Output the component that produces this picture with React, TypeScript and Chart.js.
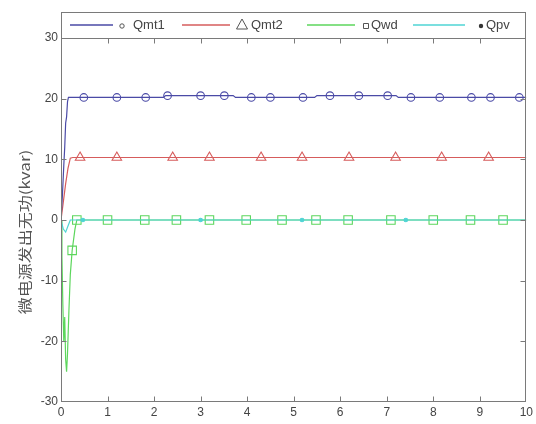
import React, { useEffect, useRef } from "react";
import { Chart, registerables } from "chart.js";

Chart.register(...registerables);

// time (s) and reactive power (kvar) for each source
const qmt1T = [0, 0.03, 0.06, 0.08, 0.1, 0.12, 0.14, 0.16, 0.2, 2.2, 2.25, 3.7, 3.75, 5.45, 5.5, 7.2, 7.25, 10];
const qmt1V = [0, 4, 9, 12, 16, 17, 19.5, 20.2, 20.2, 20.2, 20.5, 20.5, 20.2, 20.2, 20.5, 20.5, 20.2, 20.2];
const qmt1MarkT = [0.49, 1.2, 1.82, 2.29, 3.0, 3.51, 4.09, 4.5, 5.2, 5.78, 6.4, 7.02, 7.52, 8.14, 8.82, 9.23, 9.85];
const qmt1MarkV = [20.2, 20.2, 20.2, 20.5, 20.5, 20.5, 20.2, 20.2, 20.2, 20.5, 20.5, 20.5, 20.2, 20.2, 20.2, 20.2, 20.2];

const qmt2T = [0, 0.05, 0.1, 0.15, 0.2, 0.25, 10];
const qmt2V = [0, 3, 6, 8.5, 10.2, 10.3, 10.3];
const qmt2MarkT = [0.41, 1.2, 2.4, 3.19, 4.3, 5.18, 6.19, 7.19, 8.18, 9.19];
const qmt2MarkV = [10.3, 10.3, 10.3, 10.3, 10.3, 10.3, 10.3, 10.3, 10.3, 10.3];

const qwdT = [0, 0.02, 0.04, 0.06, 0.08, 0.1, 0.12, 0.14, 0.17, 0.2, 0.24, 0.3, 0.34, 10];
const qwdV = [0, -6, -14, -20, -16, -23, -25, -22, -15, -9, -5, -1.5, 0, 0];
const qwdMarkT = [0.24, 0.34, 1.0, 1.8, 2.48, 3.19, 3.98, 4.75, 5.48, 6.17, 7.09, 8.0, 8.8, 9.5];
const qwdMarkV = [-5, 0, 0, 0, 0, 0, 0, 0, 0, 0, 0, 0, 0, 0];

const qpvT = [0, 0.05, 0.1, 0.15, 0.2, 10];
const qpvV = [0, -1.5, -2, -1, 0, 0];
const qpvMarkT = [0.47, 3.0, 5.18, 7.41];
const qpvMarkV = [0, 0, 0, 0];

const seriesNames = ["Qmt1", "Qmt2", "Qwd", "Qpv"];
const xTicks = [0, 1, 2, 3, 4, 5, 6, 7, 8, 9, 10];
const yTicks = [-30, -20, -10, 0, 10, 20, 30];
const yTitle = "微电源发出无功(kvar)";

const BLUE = "#4a4aa6";
const RED = "#d65c5c";
const GREEN = "#5cd65c";
const CYAN = "#4fd4d4";
const FRAME = "#7a7a7a";
const TEXT = "#444444";

const pts = (t: number[], v: number[]) => t.map((x, i) => ({ x, y: v[i] }));

const framePlugin = {
  id: "frame",
  afterDraw(chart: any) {
    const { ctx, chartArea: a, scales } = chart;
    const xs = scales.x;
    const ys = scales.y;
    ctx.save();
    ctx.strokeStyle = FRAME;
    ctx.lineWidth = 1;
    const L = Math.round(a.left) + 0.5;
    const R = Math.round(a.right) - 0.5;
    const T = Math.round(a.top) + 0.5;
    const B = Math.round(a.bottom) - 0.5;
    // legend box above the plot
    const legTop = 12.5;
    ctx.fillStyle = "#ffffff";
    ctx.fillRect(L, legTop, R - L, T - legTop);
    ctx.strokeRect(L, legTop, R - L, T - legTop);
    ctx.strokeRect(L, T, R - L, B - T);
    ctx.beginPath();
    xTicks.slice(1, -1).forEach((v) => {
      const px = Math.round(xs.getPixelForValue(v)) + 0.5;
      ctx.moveTo(px, B);
      ctx.lineTo(px, B - 5);
      ctx.moveTo(px, T);
      ctx.lineTo(px, T + 5);
    });
    yTicks.slice(1, -1).forEach((v) => {
      const py = Math.round(ys.getPixelForValue(v)) + 0.5;
      ctx.moveTo(L, py);
      ctx.lineTo(L + 5, py);
      ctx.moveTo(R, py);
      ctx.lineTo(R - 5, py);
    });
    ctx.stroke();

    // legend entries
    const ly = 25;
    const colors = [BLUE, RED, GREEN, CYAN];
    const lines = [
      [70, 113],
      [182, 230],
      [307, 355],
      [413, 465],
    ];
    const markX = [122, 242, 366, 481];
    const textX = [133, 251, 371, 486];
    ctx.font = "13px 'Liberation Sans', Arial, sans-serif";
    ctx.textBaseline = "middle";
    ctx.textAlign = "left";
    for (let i = 0; i < 4; i++) {
      ctx.strokeStyle = colors[i];
      ctx.lineWidth = 1.4;
      ctx.beginPath();
      ctx.moveTo(lines[i][0], ly);
      ctx.lineTo(lines[i][1], ly);
      ctx.stroke();
      ctx.lineWidth = 1;
      ctx.strokeStyle = "#555";
      ctx.fillStyle = "#333";
      const mx = markX[i];
      ctx.beginPath();
      if (i === 0) {
        ctx.arc(mx, ly + 1, 2.2, 0, Math.PI * 2);
        ctx.stroke();
      } else if (i === 1) {
        ctx.moveTo(mx, ly - 6);
        ctx.lineTo(mx + 5.5, ly + 4);
        ctx.lineTo(mx - 5.5, ly + 4);
        ctx.closePath();
        ctx.stroke();
      } else if (i === 2) {
        ctx.rect(mx - 2.5, ly - 1.5, 5, 5);
        ctx.stroke();
      } else {
        ctx.arc(mx, ly + 1, 2.2, 0, Math.PI * 2);
        ctx.fill();
      }
      ctx.fillStyle = TEXT;
      ctx.fillText(seriesNames[i], textX[i], ly);
    }

    // y axis title (compressed, rotated)
    ctx.save();
    ctx.translate(25, 232);
    ctx.rotate(-Math.PI / 2);
    ctx.scale(1, 0.8);
    ctx.font = "17px 'Noto Sans CJK SC', sans-serif";
    ctx.fillStyle = "#555";
    ctx.textAlign = "center";
    ctx.textBaseline = "middle";
    ctx.fillText(yTitle, 0, 0);
    ctx.restore();
    ctx.restore();
  },
};

export default function App() {
  const ref = useRef<HTMLCanvasElement | null>(null);
  useEffect(() => {
    if (!ref.current) return;
    const lineDs = (label: string, t: number[], v: number[], color: string, order: number) => ({
      label,
      data: pts(t, v),
      borderColor: color,
      backgroundColor: color,
      borderWidth: 1.2,
      pointRadius: 0,
      tension: 0,
      order,
    });
    const markDs = (label: string, t: number[], v: number[], color: string, style: string, r: number, fill: boolean, order: number) => ({
      label,
      data: pts(t, v),
      showLine: false,
      pointStyle: style,
      pointRadius: r,
      pointBorderWidth: 1.1,
      pointBorderColor: color,
      pointBackgroundColor: fill ? color : "rgba(255,255,255,0)",
      borderColor: color,
      order,
    });
    const chart = new Chart(ref.current, {
      type: "line",
      data: {
        datasets: [
          markDs("Qpv m", qpvMarkT, qpvMarkV, CYAN, "circle", 1.8, true, 0),
          lineDs("Qpv", qpvT, qpvV, CYAN, 1),
          markDs("Qwd m", qwdMarkT, qwdMarkV, GREEN, "rect", 6, false, 2),
          lineDs("Qwd", qwdT, qwdV, GREEN, 3),
          markDs("Qmt2 m", qmt2MarkT, qmt2MarkV, RED, "triangle", 5.5, false, 4),
          markDs("Qmt1 m", qmt1MarkT, qmt1MarkV, BLUE, "circle", 3.8, false, 5),
          lineDs("Qmt1", qmt1T, qmt1V, BLUE, 6),
          lineDs("Qmt2", qmt2T, qmt2V, RED, 7),
        ] as any,
      },
      options: {
        responsive: false,
        animation: false,
        layout: { padding: { top: 38, right: 8, left: 0, bottom: 0 } },
        plugins: { legend: { display: false }, tooltip: { enabled: false }, title: { display: false } },
        scales: {
          x: {
            type: "linear",
            min: 0,
            max: 10,
            afterFit: (s: any) => {
              s.height = 22;
            },
            afterBuildTicks: (s: any) => {
              s.ticks = xTicks.map((v) => ({ value: v }));
            },
            grid: { display: false, drawTicks: false, tickLength: 0 },
            border: { display: false },
            ticks: {
              padding: 3,
              color: TEXT,
              font: { size: 12, family: "'Liberation Sans', Arial, sans-serif" },
              maxRotation: 0,
            },
          },
          y: {
            type: "linear",
            min: -30,
            max: 30,
            afterFit: (s: any) => {
              s.width = 61;
            },
            afterBuildTicks: (s: any) => {
              s.ticks = yTicks.map((v) => ({ value: v }));
            },
            grid: { display: false, drawTicks: false, tickLength: 0 },
            border: { display: false },
            ticks: {
              padding: 3,
              color: TEXT,
              font: { size: 12, family: "'Liberation Sans', Arial, sans-serif" },
            },
          },
        },
      },
      plugins: [framePlugin],
    });
    return () => chart.destroy();
  }, []);
  return (
    <div style={{ position: "absolute", left: 0, top: 0, width: 536, height: 424, background: "#fff" }}>
      <canvas ref={ref} width={536} height={424} style={{ width: 536, height: 424, display: "block" }} />
    </div>
  );
}
